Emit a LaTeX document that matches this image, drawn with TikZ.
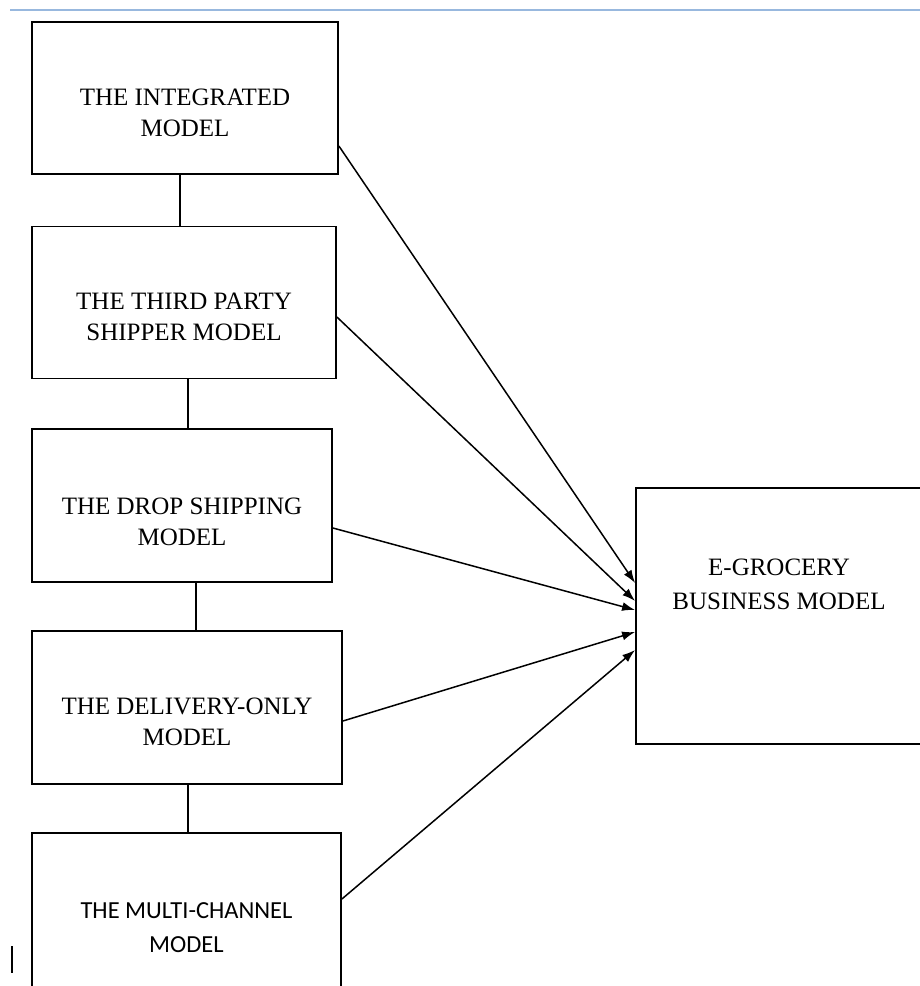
\documentclass[tikz,border=0pt]{standalone}
\usepackage{fontspec}
\setmainfont{Liberation Serif}
\newfontfamily\carlitofont{Carlito}
\usetikzlibrary{arrows.meta}
\definecolor{rulerblue}{RGB}{152,184,222}

\begin{document}
\begin{tikzpicture}[x=1pt, y=-1pt,
    modelbox/.style={rectangle, draw, line width=1.8pt,
      minimum height=152pt, align=center,
      font=\fontsize{25}{31}\selectfont,
      text height=82pt, text depth=6pt},
    link/.style={line width=1.8pt},
    feed/.style={line width=1.5pt, -{Latex[length=13pt, width=9pt]}}]

    \clip (0,0) rectangle (920,986);

    \draw[line width=2pt, rulerblue] (10,10) -- (920,10);
    \draw[line width=1.5pt] (12,946) -- (12,973);

    \node[modelbox,
    minimum width=306pt] (int) at (185,98) {THE INTEGRATED\\MODEL};

    \node[modelbox,
    minimum width=304pt] (third) at (184,302.5) {THE THIRD PARTY\\SHIPPER MODEL};

    \node[modelbox,
    minimum width=300pt,
    minimum height=153pt,
    text height=86pt] (drop) at (182,505.5) {THE DROP SHIPPING\\MODEL};

    \node[modelbox,
    minimum width=310pt,
    minimum height=153pt] (deliv) at (187,707.5) {THE DELIVERY-ONLY\\MODEL};

    \node[modelbox,
    minimum width=309pt,
    minimum height=158pt,
    font=\carlitofont\fontsize{24.5}{34}\selectfont,
    text height=86pt] (multi) at (186.5,912) {THE MULTI-CHANNEL\\MODEL};

    \node[modelbox,
    minimum width=286pt,
    minimum height=256pt,
    font=\fontsize{25}{34}\selectfont,
    text height=14pt, text depth=28pt] (ecom) at (779,616) {E-GROCERY\\BUSINESS MODEL};

      \draw[link] ([xshift=-5pt]int.south) -- ([xshift=-4pt]third.north);
      \draw[link] ([xshift=4pt]third.south) -- ([xshift=6pt]drop.north);
      \draw[link] ([xshift=14pt]drop.south) -- ([xshift=9pt]deliv.north);
      \draw[link] ([xshift=1pt]deliv.south) -- ([xshift=1.5pt]multi.north);

      \draw[feed] ([yshift=-48pt]int.east) -- ([yshift=33pt]ecom.west);
      \draw[feed] ([yshift=-14.5pt]third.east) -- ([yshift=15pt]ecom.west);
      \draw[feed] ([yshift=-22.5pt]drop.east) -- ([yshift=6pt]ecom.west);
      \draw[feed] ([yshift=-13.5pt]deliv.east) -- ([yshift=-16pt]ecom.west);
      \draw[feed] ([yshift=13pt]multi.east) -- ([yshift=-34pt]ecom.west);
    \end{tikzpicture}
\end{document}
